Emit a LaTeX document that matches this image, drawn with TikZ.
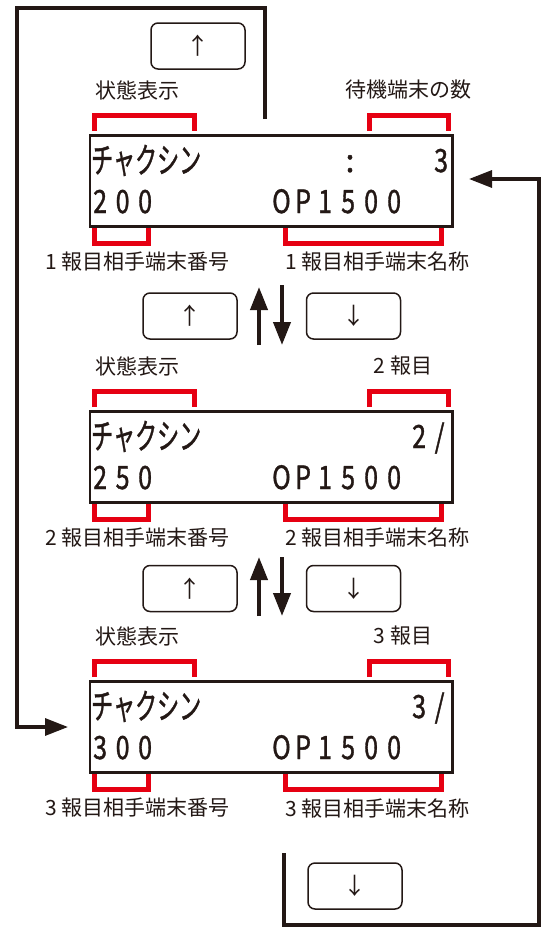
\documentclass[tikz,border=0pt]{standalone}
\usepackage{fontspec}
\usepackage{graphicx}
\usetikzlibrary{arrows.meta}
\newfontfamily\jpfont{Noto Sans CJK JP}
\newfontfamily\lcdfont[FakeBold=1.4]{Noto Sans CJK JP}
\definecolor{ink}{HTML}{231815}
\definecolor{jred}{HTML}{E60012}
\makeatletter
\newcommand\lcdrow[2]{\def\lcd@adv{#1}\lcd@loop#2\relax}
\def\lcd@loop#1{\ifx#1\relax\else\makebox[\lcd@adv][l]{\scalebox{0.78}[1]{#1}}\expandafter\lcd@loop\fi}
\makeatother
\tikzset{
  lbl/.style={font=\jpfont\fontsize{21}{24}\selectfont, text=ink, inner sep=0},
  lcdtxt/.style={font=\lcdfont\fontsize{32}{36}\selectfont, text=ink, inner sep=0, anchor=base west},
  katatxt/.style={font=\lcdfont\fontsize{35}{38}\selectfont, text=ink, inner sep=0, anchor=base west},
  disp/.style={draw=ink, line width=2.5pt, inner sep=0, anchor=north west, minimum width=362.5pt, minimum height=91pt},
  btn/.style={draw=ink, line width=1.5pt, rounded corners=7pt, minimum width=94pt, minimum height=46pt, inner sep=0, font=\jpfont\fontsize{23}{26}\selectfont, text=ink},
  brk/.style={draw=jred, line width=5pt},
  loopline/.style={draw=ink, line width=3.2pt},
  loopend/.style={loopline, -{Triangle[length=23pt,width=17pt]}},
  bigarr/.style={draw=ink, line width=4pt, -{Triangle[length=23pt,width=17pt]}},
}
\begin{document}
\begin{tikzpicture}[x=1pt,y=-1pt]
\fill[white] (0,0) rectangle (544,927);
\useasboundingbox (0,0) rectangle (544,927);

% ---------- display 1 ----------
\node[disp] (d1) at (88.5,134) {};
\node[katatxt] (d1k) at (91,173) {\scalebox{0.63}[1]{チャクシン}};
\node[lcdtxt, anchor=base] (d1c) at (350,172) {:};
\node[lcdtxt] (d1r) at (434,172) {\scalebox{0.78}[1]{3}};
\node[lcdtxt] (d1n) at (93,213) {\lcdrow{22.5pt}{200}};
\node[lcdtxt] (d1o) at (272,213) {\lcdrow{23pt}{OP1500}};
\draw[brk] (94.5,131) -- (94.5,115.5) -- (194.5,115.5) -- (194.5,131);
\draw[brk] (369.5,131) -- (369.5,115.5) -- (448.5,115.5) -- (448.5,131);
\draw[brk] (94.5,228) -- (94.5,243.5) -- (148.5,243.5) -- (148.5,228);
\draw[brk] (285.5,228) -- (285.5,243.5) -- (441.5,243.5) -- (441.5,228);
\node[lbl] (d1s) at (137.5,90) {状態表示};
\node[lbl] (d1w) at (408,90) {待機端末の数};
\node[lbl] (d1a) at (137.5,262) {1 報目相手端末番号};
\node[lbl] (d1b) at (377.5,262) {1 報目相手端末名称};

% ---------- display 2 ----------
\begin{scope}[shift={(0,276)}]
\node[disp] (d2) at (88.5,134) {};
\node[katatxt] (d2k) at (91,173) {\scalebox{0.63}[1]{チャクシン}};
\node[lcdtxt] (d2r) at (412,172) {\lcdrow{22.5pt}{2/}};
\node[lcdtxt] (d2n) at (93,213) {\lcdrow{22.5pt}{250}};
\node[lcdtxt] (d2o) at (272,213) {\lcdrow{23pt}{OP1500}};
\draw[brk] (94.5,131) -- (94.5,115.5) -- (194.5,115.5) -- (194.5,131);
\draw[brk] (369.5,131) -- (369.5,115.5) -- (448.5,115.5) -- (448.5,131);
\draw[brk] (94.5,228) -- (94.5,243.5) -- (148.5,243.5) -- (148.5,228);
\draw[brk] (285.5,228) -- (285.5,243.5) -- (441.5,243.5) -- (441.5,228);
\node[lbl] (d2s) at (137.5,90) {状態表示};
\node[lbl] (d2w) at (403,90) {2 報目};
\node[lbl] (d2a) at (137.5,262) {2 報目相手端末番号};
\node[lbl] (d2b) at (377.5,262) {2 報目相手端末名称};
\end{scope}

% ---------- display 3 ----------
\begin{scope}[shift={(0,546)}]
\node[disp] (d3) at (88.5,134) {};
\node[katatxt] (d3k) at (91,173) {\scalebox{0.63}[1]{チャクシン}};
\node[lcdtxt] (d3r) at (412,172) {\lcdrow{22.5pt}{3/}};
\node[lcdtxt] (d3n) at (93,213) {\lcdrow{22.5pt}{300}};
\node[lcdtxt] (d3o) at (272,213) {\lcdrow{23pt}{OP1500}};
\draw[brk] (94.5,131) -- (94.5,115.5) -- (194.5,115.5) -- (194.5,131);
\draw[brk] (369.5,131) -- (369.5,115.5) -- (448.5,115.5) -- (448.5,131);
\draw[brk] (94.5,228) -- (94.5,243.5) -- (148.5,243.5) -- (148.5,228);
\draw[brk] (285.5,228) -- (285.5,243.5) -- (441.5,243.5) -- (441.5,228);
\node[lbl] (d3s) at (137.5,90) {状態表示};
\node[lbl] (d3w) at (403,90) {3 報目};
\node[lbl] (d3a) at (137.5,262) {3 報目相手端末番号};
\node[lbl] (d3b) at (377.5,262) {3 報目相手端末名称};
\end{scope}

% ---------- buttons ----------
\node[btn] (bt) at (198,46) {↑};
\node[btn] (b1u) at (190,316) {↑};
\node[btn] (b1d) at (353.5,316) {↓};
\node[btn] (b2u) at (190,588.5) {↑};
\node[btn] (b2d) at (353.5,588.5) {↓};
\node[btn] (bb) at (355,886) {↓};

% ---------- big arrows between displays ----------
\coordinate (a1s) at (259,345); \coordinate (a1e) at (259,287);
\coordinate (a2s) at (282,285); \coordinate (a2e) at (282,345);
\coordinate (a3s) at (259,616); \coordinate (a3e) at (259,557);
\coordinate (a4s) at (282,557); \coordinate (a4e) at (282,616);
\draw[bigarr] (a1s) -- (a1e);
\draw[bigarr] (a2s) -- (a2e);
\draw[bigarr] (a3s) -- (a3e);
\draw[bigarr] (a4s) -- (a4e);

% ---------- loops ----------
\coordinate (ls) at (265,119);
\coordinate (le) at (68,727);
\draw[loopend] (ls) -- (265,8) -- (17,8) -- (17,727) -- (le);
\coordinate (rs) at (284,853);
\coordinate (re) at (469,179);
\draw[loopend] (rs) -- (284,925) -- (539,925) -- (539,179) -- (re);
\end{tikzpicture}
\end{document}
